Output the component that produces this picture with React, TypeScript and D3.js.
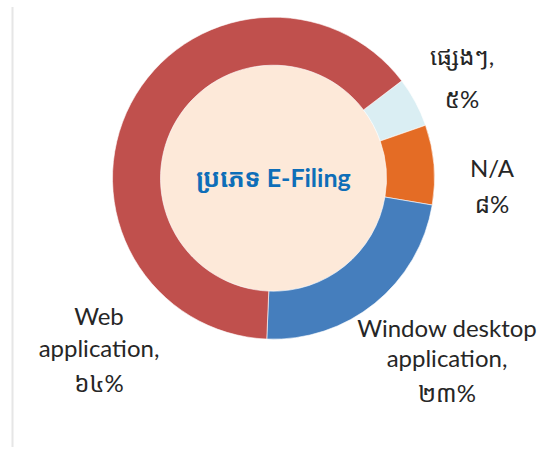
import React, { useEffect, useRef } from "react"
import * as d3 from "d3"

// slices in clockwise order, starting from the top-right
const categories = ["ផ្សេងៗ", "N/A", "Window desktop application", "Web application"]
const values = [5, 8, 23, 64]
const valueLabels = ["៥%", "៨%", "២៣%", "៦៤%"]
const colours = ["#DAEEF3", "#E46C25", "#457EBD", "#C0504D"]
// label lines as shown in the picture
const labelLines = [
    ["ផ្សេងៗ,", "៥%"],
    ["N/A", "៨%"],
    ["Window desktop", "application,", "២៣%"],
    ["Web", "application,", "៦៤%"],
]
const centerTitle = "ប្រភេទ E-Filing"

const App = () => {
    const chartRef = useRef<SVGSVGElement | null>(null)

    useEffect(() => {
        document.body.style.margin = "0"
        renderChart()
    }, [])

    function renderChart() {
        if (!chartRef.current) return
        const svg = d3.select(chartRef.current)
        svg.selectAll("*").remove()

        const width = 549
        const height = 449
        const cx = 273.5
        const cy = 178.2
        const outerR = 161
        const innerR = 113
        const font = "Lato, 'Noto Sans Khmer', 'Khmer OS', 'DejaVu Sans', sans-serif"

        svg.attr("width", width).attr("height", height)

        // faint frame line on the left
        svg.append("line")
            .attr("x1", 12.5)
            .attr("x2", 12.5)
            .attr("y1", 7)
            .attr("y2", 447)
            .attr("stroke", "#e6e6e6")
            .attr("stroke-width", 2)

        const g = svg.append("g").attr("transform", "translate(" + cx + "," + cy + ")")

        const startAngle = (52.8 * Math.PI) / 180
        const pie = d3
            .pie<number>()
            .sort(null)
            .startAngle(startAngle)
            .endAngle(startAngle + 2 * Math.PI)
        const arcs = pie(values)
        const arc = d3.arc<d3.PieArcDatum<number>>().innerRadius(innerR).outerRadius(outerR)

        g.append("circle").attr("r", innerR).attr("fill", "#FDE9D9")

        g.selectAll("path.slice")
            .data(arcs)
            .enter()
            .append("path")
            .attr("class", "slice")
            .attr("d", arc)
            .attr("fill", (d, i) => colours[i])
            .attr("stroke", "#ffffff")
            .attr("stroke-width", 0.6)

        g.append("text")
            .attr("x", 0)
            .attr("y", 9)
            .attr("text-anchor", "middle")
            .attr("fill", "#0E6EB8")
            .attr("font-family", font)
            .attr("font-weight", 700)
            .attr("font-size", "25px")
            .text(centerTitle)

        // data label anchors: centre x and the baseline of each line
        const labelPos = [
            { x: 462, ys: [65, 108] },
            { x: 492, ys: [177, 213] },
            { x: 447, ys: [337, 367, 402] },
            { x: 99, ys: [325, 357, 392] },
        ]

        labelLines.forEach((lines, i) => {
            const p = labelPos[i]
            const t = svg
                .append("text")
                .attr("text-anchor", "middle")
                .attr("fill", "#262626")
                .attr("font-family", font)
                .attr("font-size", "24px")
                .attr("aria-label", categories[i] + ", " + valueLabels[i])
            lines.forEach((line, j) => {
                t.append("tspan")
                    .attr("x", p.x)
                    .attr("y", p.ys[j])
                    .text(line)
            })
        })
    }

    return <svg ref={chartRef} style={{ display: "block" }} />
}

export default App
